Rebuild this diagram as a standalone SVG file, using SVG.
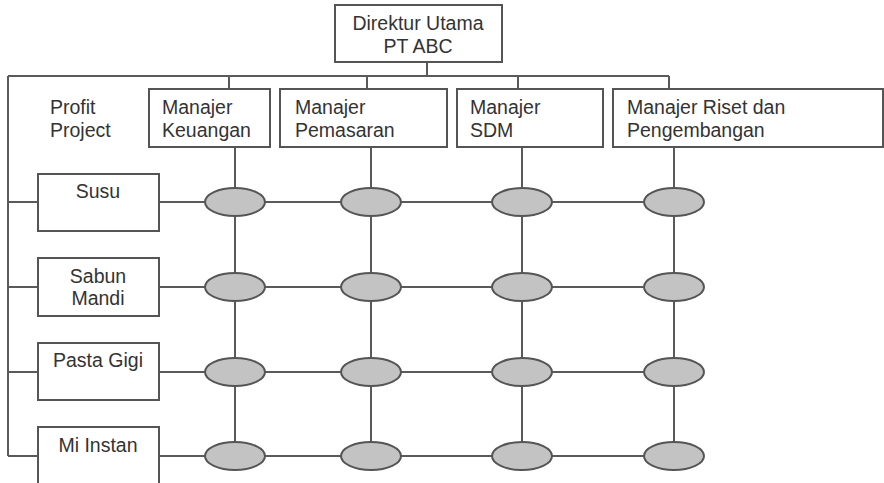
<svg xmlns="http://www.w3.org/2000/svg" width="884" height="483" viewBox="0 0 884 483">
<style>
.box{fill:#fff;stroke:#555;stroke-width:2}
.ln{fill:none;stroke:#5a5a5a;stroke-width:2}
.el{fill:#c3c3c3;stroke:#555;stroke-width:2}
text{font-family:"Liberation Sans",Arial,sans-serif;font-size:19.5px;fill:#333}
.c{text-anchor:middle}
</style>
<rect width="884" height="483" fill="#fff"/>
<g id="connectors">
<path class="ln" d="M427 62V76M8 76H669M229 76V89M367 76V89M518 76V89M669 76V89M8 76V456"/>
<path class="ln" d="M8 202H38M8 287H38M8 372H38M8 456H38"/>
<path class="ln" d="M159 202H674M159 287H674M159 372H674M159 456H674"/>
<path class="ln" d="M235 147V456M371 147V456M522 147V456M674 147V456"/>
</g>
<g id="direktur"><rect class="box" x="335" y="5" width="167" height="57"/><text class="c" x="418" y="30">Direktur Utama</text><text class="c" x="418" y="53">PT ABC</text></g>
<g id="profit-project"><text x="50" y="114">Profit</text><text x="50" y="137">Project</text></g>
<g id="m-keuangan"><rect class="box" x="149" y="89" width="121" height="58"/><text x="162" y="114">Manajer</text><text x="162" y="137">Keuangan</text></g>
<g id="m-pemasaran"><rect class="box" x="280" y="89" width="167" height="58"/><text x="295" y="114">Manajer</text><text x="295" y="137">Pemasaran</text></g>
<g id="m-sdm"><rect class="box" x="457" y="89" width="146" height="58"/><text x="470" y="114">Manajer</text><text x="470" y="137">SDM</text></g>
<g id="m-riset"><rect class="box" x="613" y="89" width="270" height="58"/><text x="627" y="114">Manajer Riset dan</text><text x="627" y="137">Pengembangan</text></g>
<g id="p-susu"><rect class="box" x="38" y="174" width="121" height="57"/><text class="c" x="98" y="198">Susu</text></g>
<g id="p-sabun"><rect class="box" x="38" y="258" width="121" height="58"/><text class="c" x="98" y="283">Sabun</text><text class="c" x="98" y="305">Mandi</text></g>
<g id="p-pasta"><rect class="box" x="38" y="343" width="121" height="57"/><text class="c" x="98" y="367">Pasta Gigi</text></g>
<g id="p-mi"><rect class="box" x="38" y="427" width="121" height="60"/><text class="c" x="98" y="452">Mi Instan</text></g>
<g id="matrix">
<ellipse class="el" cx="235" cy="202" rx="30" ry="14"/><ellipse class="el" cx="371" cy="202" rx="30" ry="14"/><ellipse class="el" cx="522" cy="202" rx="30" ry="14"/><ellipse class="el" cx="674" cy="202" rx="30" ry="14"/>
<ellipse class="el" cx="235" cy="287" rx="30" ry="14"/><ellipse class="el" cx="371" cy="287" rx="30" ry="14"/><ellipse class="el" cx="522" cy="287" rx="30" ry="14"/><ellipse class="el" cx="674" cy="287" rx="30" ry="14"/>
<ellipse class="el" cx="235" cy="372" rx="30" ry="14"/><ellipse class="el" cx="371" cy="372" rx="30" ry="14"/><ellipse class="el" cx="522" cy="372" rx="30" ry="14"/><ellipse class="el" cx="674" cy="372" rx="30" ry="14"/>
<ellipse class="el" cx="235" cy="456" rx="30" ry="14"/><ellipse class="el" cx="371" cy="456" rx="30" ry="14"/><ellipse class="el" cx="522" cy="456" rx="30" ry="14"/><ellipse class="el" cx="674" cy="456" rx="30" ry="14"/>
</g>
</svg>
